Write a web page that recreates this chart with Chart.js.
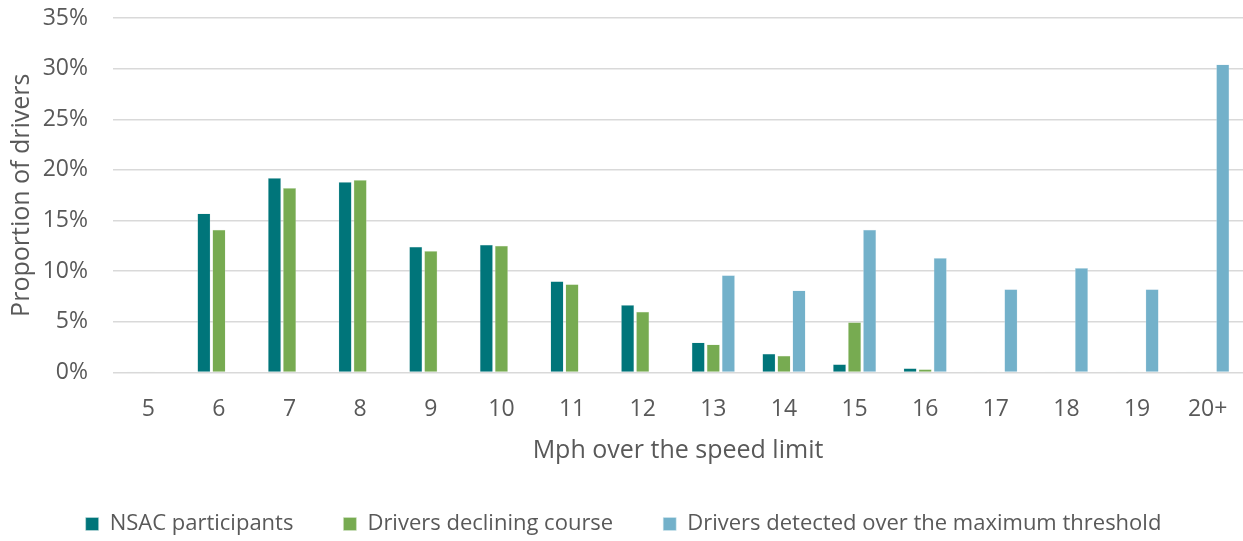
<!DOCTYPE html>
<html>
<head>
<meta charset="utf-8">
<script src="https://cdn.jsdelivr.net/npm/chart.js@4"></script>
<style>
  body { margin: 0; background: #fff; }
  #wrap { width: 1243px; height: 541px; }
</style>
</head>
<body>
<div id="wrap"><canvas id="myChart"></canvas></div>
<script>
// mph over the limit
var speeds = ["5", "6", "7", "8", "9", "10", "11", "12", "13", "14", "15", "16", "17", "18", "19", "20+"];
// proportions in %
var nsac = [0.05, 15.7, 19.2, 18.8, 12.4, 12.6, 9.0, 6.65, 2.95, 1.85, 0.8, 0.4, 0.05, 0.05, 0.05, 0.05];
var declining = [0.05, 14.1, 18.2, 19.0, 12.0, 12.5, 8.7, 6.0, 2.75, 1.65, 4.95, 0.3, 0.05, 0.05, 0.05, 0.05];
var overMax = [0, 0, 0, 0, 0, 0, 0, 0, 9.6, 8.1, 14.1, 11.3, 8.2, 10.3, 8.2, 30.4];
var yTicks = [0, 5, 10, 15, 20, 25, 30, 35];

var grey = "#595959";
var font = "'Open Sans', 'Noto Sans', sans-serif";

var ctx = document.getElementById("myChart").getContext("2d");
var chart = new Chart(ctx, {
  type: "bar",
  data: {
    labels: speeds,
    datasets: [
      {
        label: "NSAC participants",
        backgroundColor: "#00757a",
        borderColor: "#cfe3e4",
        borderWidth: 0.5,
        data: nsac
      },
      {
        label: "Drivers declining course",
        backgroundColor: "#77ab51",
        borderColor: "#d6e6cb",
        borderWidth: 0.5,
        data: declining
      },
      {
        label: "Drivers detected over the maximum threshold",
        backgroundColor: "#73b1ca",
        borderColor: "#d5e8ef",
        borderWidth: 0.5,
        data: overMax
      }
    ]
  },
  options: {
    responsive: true,
    maintainAspectRatio: false,
    animation: false,
    categoryPercentage: 0.64,
    barPercentage: 0.87,
    layout: { padding: { top: 0, right: 0, left: 4, bottom: -4 } },
    plugins: {
      tooltip: { enabled: false },
      legend: {
        position: "bottom",
        labels: {
          color: grey,
          font: { family: font, size: 22 },
          boxWidth: 13,
          boxHeight: 13,
          padding: 50
        }
      }
    },
    scales: {
      x: {
        grid: { display: false },
        border: { display: false },
        ticks: { color: grey, font: { family: font, size: 23 }, padding: 15 },
        title: {
          display: true,
          text: "Mph over the speed limit",
          color: grey,
          font: { family: font, size: 25, lineHeight: 1 },
          padding: { top: 0, bottom: 0 }
        }
      },
      y: {
        min: 0,
        max: 35,
        afterBuildTicks: function (axis) {
          axis.ticks = yTicks.map(function (v) { return { value: v }; });
        },
        afterFit: function (axis) {
          axis.width = 109;
          axis.paddingTop = 18;
          axis.paddingBottom = 14;
        },
        grid: { color: "#d9d9d9", lineWidth: 1.5, drawTicks: false },
        border: { display: false },
        ticks: {
          color: grey,
          font: { family: font, size: 23 },
          padding: 25,
          callback: function (v) { return v + "%"; }
        },
        title: {
          display: true,
          text: "Proportion of drivers",
          color: grey,
          font: { family: font, size: 25 },
          padding: { top: 3, bottom: 7 }
        }
      }
    }
  }
});
</script>
</body>
</html>
